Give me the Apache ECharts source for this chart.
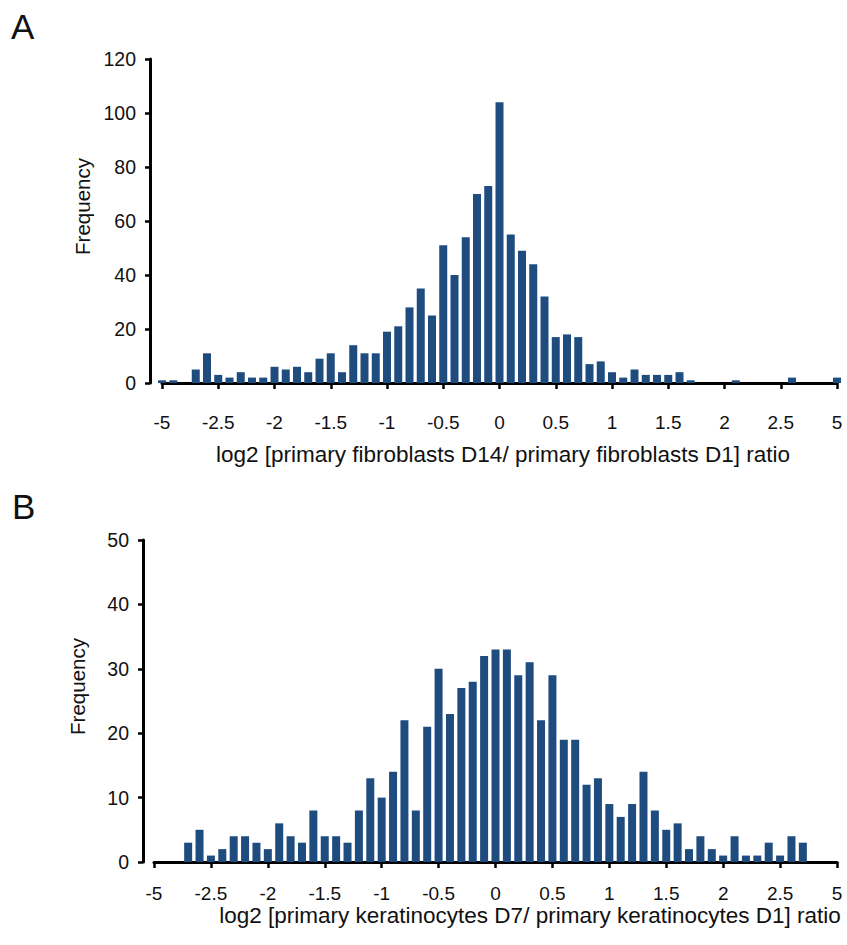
<!DOCTYPE html>
<html>
<head>
<meta charset="utf-8">
<title>Histogram</title>
<script src="https://cdn.jsdelivr.net/npm/echarts@6/dist/echarts.min.js"></script>
<style>
    html, body { margin: 0; padding: 0; background: #fff; }
    #chart { width: 847px; height: 945px; }
</style>
</head>
<body>
<div id="chart"></div>
<script>
    // bins (categories), the outer ones are compressed
    var bins = ['-5', '-4.5', '-4', '-3.5', '-3',
        '-2.5', '-2.4', '-2.3', '-2.2', '-2.1', '-2', '-1.9', '-1.8', '-1.7', '-1.6',
        '-1.5', '-1.4', '-1.3', '-1.2', '-1.1', '-1', '-0.9', '-0.8', '-0.7', '-0.6',
        '-0.5', '-0.4', '-0.3', '-0.2', '-0.1', '0', '0.1', '0.2', '0.3', '0.4',
        '0.5', '0.6', '0.7', '0.8', '0.9', '1', '1.1', '1.2', '1.3', '1.4',
        '1.5', '1.6', '1.7', '1.8', '1.9', '2', '2.1', '2.2', '2.3', '2.4',
        '2.5', '3', '3.5', '4', '4.5', '5'];

    // labelled ticks on the x axis
    var tickLabels = ['-5', '-2.5', '-2', '-1.5', '-1', '-0.5', '0', '0.5', '1', '1.5', '2', '2.5', '5'];

    // A: fibroblasts D14 / D1
    var freqA = [1, 1, 0, 5, 11,
        3, 2, 4, 2, 2, 6, 5, 6, 4, 9,
        11, 4, 14, 11, 11, 19, 21, 28, 35, 25,
        51, 40, 54, 70, 73, 104, 55, 49, 44, 32,
        17, 18, 17, 7, 8, 4, 2, 5, 3, 3,
        3, 4, 1, 0, 0, 0, 1, 0, 0, 0,
        0, 2, 0, 0, 0, 2];

    // B: keratinocytes D7 / D1
    var freqB = [0, 0, 0, 3, 5,
        1, 2, 4, 4, 3, 2, 6, 4, 3, 8,
        4, 4, 3, 8, 13, 10, 14, 22, 8, 21,
        30, 23, 27, 28, 32, 33, 33, 29, 31, 22,
        29, 19, 19, 12, 13, 9, 7, 9, 14, 8,
        5, 6, 2, 4, 2, 1, 4, 1, 1, 3,
        1, 4, 3, 0, 0, 0];

    var chart = echarts.init(document.getElementById('chart'), null, {renderer: 'svg'});

    var font = 'Liberation Sans, Arial, sans-serif';
    var barColor = '#1f4c7f';

    function showTick(index, value) {
        return tickLabels.indexOf(value) >= 0;
    }

    function xAxis(gridIndex, name, offset, labelMargin, nameGap, namePadLeft) {
        return {
            type: 'category',
            gridIndex: gridIndex,
            data: bins,
            boundaryGap: false,
            offset: offset,
            axisLine: {lineStyle: {color: '#000', width: 3}},
            axisTick: {show: true, interval: showTick, length: 6, lineStyle: {color: '#000', width: 2.5}},
            axisLabel: {interval: showTick, margin: labelMargin, color: '#111', fontSize: 19, fontFamily: font},
            splitLine: {show: false},
            name: name,
            nameLocation: 'middle',
            nameGap: nameGap,
            nameTextStyle: {color: '#111', fontSize: 22.5, fontFamily: font, padding: [0, 0, 0, namePadLeft]}
        };
    }

    function yAxis(gridIndex, max, interval, offset) {
        return {
            type: 'value',
            gridIndex: gridIndex,
            min: 0,
            max: max,
            interval: interval,
            offset: offset,
            axisLine: {show: true, lineStyle: {color: '#000', width: 3}},
            axisTick: {show: true, length: 5, lineStyle: {color: '#000', width: 2.5}},
            axisLabel: {margin: 14, color: '#111', fontSize: 19.5, fontFamily: font},
            splitLine: {show: false},
            name: 'Frequency',
            nameLocation: 'middle',
            nameGap: 55,
            nameTextStyle: {color: '#111', fontSize: 20.5, fontFamily: font, padding: [0, 0, 0, 29]}
        };
    }

    var option = {
        backgroundColor: '#fff',
        animation: false,
        title: [
            {text: 'A', left: 11, top: 9, padding: 0, textStyle: {fontSize: 35, fontWeight: 'normal', color: '#111', fontFamily: font}},
            {text: 'B', left: 12, top: 489, padding: 0, textStyle: {fontSize: 35, fontWeight: 'normal', color: '#111', fontFamily: font}}
        ],
        grid: [
            {left: 162, right: 10, top: 59, bottom: 562, outerBoundsMode: 'none'},
            {left: 154, right: 10, top: 540, bottom: 83, outerBoundsMode: 'none'}
        ],
        xAxis: [
            xAxis(0, 'log2 [primary fibroblasts D14/ primary fibroblasts D1] ratio', 10, 20, 50, 7),
            xAxis(1, 'log2 [primary keratinocytes D7/ primary keratinocytes D1] ratio', 8, 14, 34, 69)
        ],
        yAxis: [
            yAxis(0, 120, 20, 12),
            yAxis(1, 50, 10, 11)
        ],
        series: [
            {
                type: 'bar',
                xAxisIndex: 0,
                yAxisIndex: 0,
                data: freqA,
                barWidth: 8,
                itemStyle: {color: barColor}
            },
            {
                type: 'bar',
                xAxisIndex: 1,
                yAxisIndex: 1,
                data: freqB,
                barWidth: 8,
                itemStyle: {color: barColor}
            }
        ]
    };
    chart.setOption(option);
</script>
</body>
</html>
